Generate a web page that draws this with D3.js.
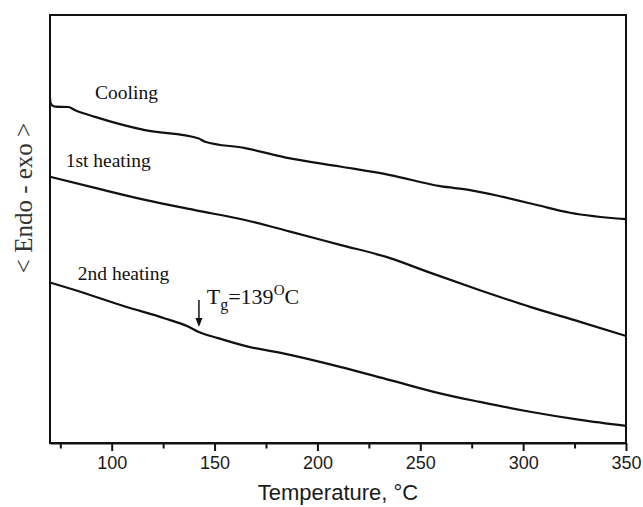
<!DOCTYPE html>
<html>
<head>
<meta charset="utf-8">
<script src="https://cdn.jsdelivr.net/npm/d3@7"></script>
<style>
  html, body { margin: 0; padding: 0; background: #fff; }
  svg { display: block; }
</style>
</head>
<body>
<svg id="chart" width="643" height="507"></svg>
<script>
// ---- Data (y in arbitrary heat-flow units) ----
const coolingT = [70, 70.2, 71, 72.5, 79, 82, 91.9, 116.2, 142, 145.4, 164.8, 186.7, 211, 235.3, 259.6, 274.2, 290.2, 306.8, 322.8, 350];
const coolingV = [80.8, 79.6, 78.9, 78.6, 78.5, 77.8, 76.2, 73.1, 71.2, 70.4, 68.9, 66.5, 64.6, 62.6, 60.0, 59.1, 57.5, 55.6, 53.8, 52.3];

const heat1T = [70, 91.9, 116.2, 140.5, 164.8, 186.7, 211, 235.3, 254.7, 279, 303.4, 327.7, 350];
const heat1V = [62.2, 59.6, 56.8, 54.4, 52.1, 49.4, 46.3, 43.2, 39.8, 35.7, 31.8, 28.3, 25.0];

const heat2T = [70, 87, 106.5, 125.9, 137.1, 142, 151.7, 164.8, 186.7, 211, 235.3, 259.6, 279, 303.4, 327.7, 350];
const heat2V = [37.5, 35.0, 31.9, 29.1, 27.2, 26.0, 24.5, 22.7, 20.6, 17.8, 14.7, 11.6, 9.6, 7.3, 5.4, 4.0];

const seriesNames = ["Cooling", "1st heating", "2nd heating"];
const labelT = [91.9, 77.6, 83.5];
const labelV = [80.4, 64.6, 38.1];

const majorTicks = [100, 150, 200, 250, 300, 350];
const minorTicks = [75, 125, 175, 225, 275, 325];

const tgArrowT = 142.4;
const tgArrowV = [33.4, 27.1];   // tail, tip
const tgTextT = 146.2;
const tgTextV = 32.5;

const xDomain = [70, 350];
const yDomain = [0, 100];

// ---- Layout ----
const margin = { left: 50, top: 15, right: 17, bottom: 64 };
const W = 643, H = 507;
const svg = d3.select("#chart");
const x = d3.scaleLinear().domain(xDomain).range([margin.left, W - margin.right]);
const y = d3.scaleLinear().domain(yDomain).range([H - margin.bottom, margin.top]);

const serif = "'Liberation Serif', 'Times New Roman', serif";
const sans = "'Liberation Sans', Arial, sans-serif";

// ---- Curves ----
const line = d3.line().x(d => x(d[0])).y(d => y(d[1])).curve(d3.curveMonotoneX);
const series = [
  d3.zip(coolingT, coolingV),
  d3.zip(heat1T, heat1V),
  d3.zip(heat2T, heat2V)
];
svg.append("g").selectAll("path").data(series).join("path")
  .attr("d", line)
  .attr("fill", "none")
  .attr("stroke", "#111")
  .attr("stroke-width", 2.2)
  .attr("stroke-linejoin", "round");

// ---- Frame ----
svg.append("rect")
  .attr("x", x(xDomain[0])).attr("y", y(yDomain[1]))
  .attr("width", x(xDomain[1]) - x(xDomain[0]))
  .attr("height", y(yDomain[0]) - y(yDomain[1]))
  .attr("fill", "none").attr("stroke", "#111").attr("stroke-width", 2);

// ---- X axis ----
const xAxisG = svg.append("g")
  .attr("transform", `translate(0,${y(yDomain[0])})`)
  .call(d3.axisBottom(x).tickValues(majorTicks).tickSize(8).tickSizeOuter(0).tickPadding(5).tickFormat(d3.format("d")));
xAxisG.select(".domain").attr("stroke", "#111").attr("stroke-width", 2);
xAxisG.selectAll(".tick line").attr("stroke", "#111").attr("stroke-width", 2);
xAxisG.selectAll(".tick text").attr("font-family", sans).attr("font-size", 18).attr("fill", "#1a1a1a");

const xMinorG = svg.append("g")
  .attr("transform", `translate(0,${y(yDomain[0])})`)
  .call(d3.axisBottom(x).tickValues(minorTicks).tickSize(5.5).tickFormat(""));
xMinorG.select(".domain").remove();
xMinorG.selectAll(".tick line").attr("stroke", "#111").attr("stroke-width", 2);

// ---- Axis titles ----
svg.append("text")
  .attr("x", (x(xDomain[0]) + x(xDomain[1])) / 2)
  .attr("y", 500)
  .attr("text-anchor", "middle")
  .attr("font-family", sans).attr("font-size", 22).attr("fill", "#1a1a1a")
  .text("Temperature, °C");

svg.append("text")
  .attr("transform", `translate(32,${(y(yDomain[0]) + y(yDomain[1])) / 2 - 31}) rotate(-90)`)
  .attr("text-anchor", "middle")
  .attr("font-family", serif).attr("font-size", 25).attr("fill", "#333")
  .text("< Endo - exo >");

// ---- Curve labels ----
svg.append("g").selectAll("text").data(seriesNames).join("text")
  .attr("x", (d, i) => x(labelT[i]))
  .attr("y", (d, i) => y(labelV[i]))
  .attr("font-family", serif).attr("font-size", 19.5).attr("fill", "#111")
  .text(d => d);

// ---- Tg annotation ----
const ax = x(tgArrowT), ay0 = y(tgArrowV[0]), ay1 = y(tgArrowV[1]);
svg.append("line")
  .attr("x1", ax).attr("x2", ax).attr("y1", ay0).attr("y2", ay1 - 6)
  .attr("stroke", "#111").attr("stroke-width", 1.5);
svg.append("path")
  .attr("d", `M${ax - 3.5},${ay1 - 9} L${ax + 3.5},${ay1 - 9} L${ax},${ay1} Z`)
  .attr("fill", "#111");

const tg = svg.append("text")
  .attr("x", x(tgTextT)).attr("y", y(tgTextV))
  .attr("font-family", serif).attr("font-size", 22).attr("fill", "#111");
tg.append("tspan").text("T");
tg.append("tspan").attr("font-size", 16).attr("dy", 6).text("g");
tg.append("tspan").attr("dy", -6).text("=139");
tg.append("tspan").attr("font-size", 15).attr("dy", -9).text("O");
tg.append("tspan").attr("dy", 9).text("C");
</script>
</body>
</html>
